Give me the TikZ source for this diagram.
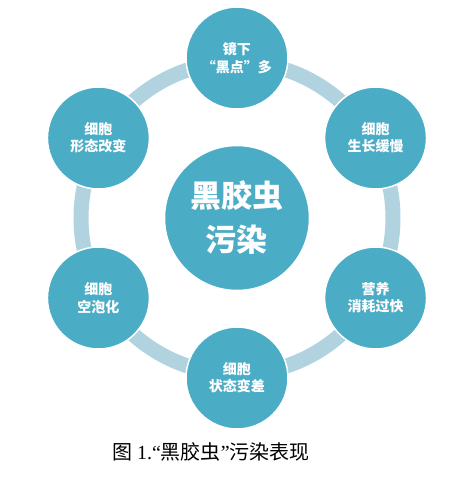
\documentclass[tikz,border=0pt]{standalone}
\usepackage{fontspec}
\setmainfont{Liberation Serif}
\newfontfamily\cjk{Noto Sans CJK SC}
\usepackage{tikz}
\usetikzlibrary{positioning}

\definecolor{teal}{HTML}{4BACC6}
\definecolor{ringblue}{HTML}{B0D3DF}

\begin{document}
\begin{tikzpicture}[x=1pt, y=1pt,
    every node/.style={circle, fill=teal, draw=white, line width=1.5pt, text=white, align=center, inner sep=0pt},
    petal/.style={minimum size=102pt, font=\cjk\bfseries\fontsize{14}{17.3}\selectfont},
    hub/.style={minimum size=145pt, font=\cjk\bfseries\fontsize{31}{44}\selectfont}]
    \useasboundingbox (-237,-281) rectangle (234,218);
    \draw[ringblue, line width=15pt] (0,0) circle (156);
    \node[hub] (C) at (0,0) {黑胶虫\\污染};
    \node[petal] (A) at (90:160) {镜下\\“黑点”多};
    \node[petal] (B) at (30:160) {细胞\\生长缓慢};
    \node[petal] (D) at (-30:160) {营养\\消耗过快};
    \node[petal] (E) at (-90:160) {细胞\\状态变差};
    \node[petal] (F) at (210:160) {细胞\\空泡化};
    \node[petal] (G) at (150:160) {细胞\\形态改变};
    \node[draw=none, fill=none, text=black, font=\fontsize{20}{22}\selectfont] (cap) at (-26,-234) {{\cjk 图} 1.“{\cjk 黑胶虫}”{\cjk 污染表现}};
\end{tikzpicture}
\end{document}
